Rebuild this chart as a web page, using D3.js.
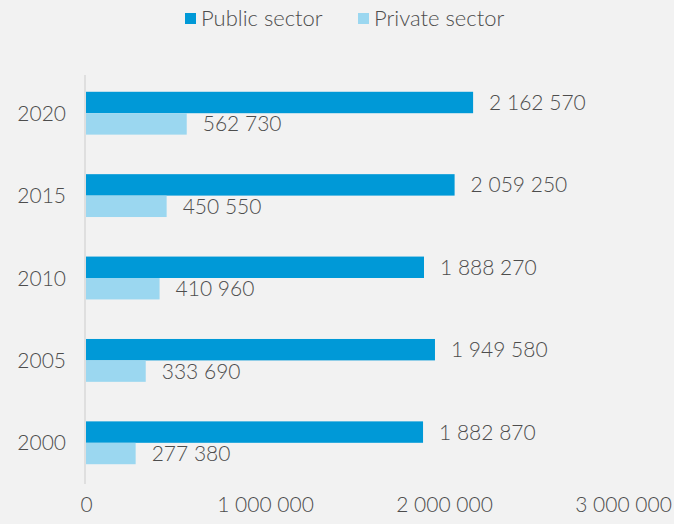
<!DOCTYPE html>
<html>
<head>
<meta charset="utf-8">
<script src="https://cdn.jsdelivr.net/npm/d3@7"></script>
<style>
  html, body { margin: 0; padding: 0; background: #f2f2f2; }
  svg { display: block; font-family: Lato, "Open Sans", sans-serif; font-weight: 300; }
</style>
</head>
<body>
<svg id="chart" width="674" height="524"></svg>
<script>
// Employment by sector, selected years
const years = ["2020", "2015", "2010", "2005", "2000"];
const publicSector = [2162570, 2059250, 1888270, 1949580, 1882870];
const privateSector = [562730, 450550, 410960, 333690, 277380];
const seriesNames = ["Public sector", "Private sector"];
const xTicks = [0, 1000000, 2000000, 3000000];

const colors = { "Public sector": "#0099d7", "Private sector": "#9bd7f0" };
const textColor = "#4d4d4d";

const svg = d3.select("#chart");
const margin = { left: 86, right: 51, top: 72, bottom: 40 };
const W = 674, H = 524;

const x = d3.scaleLinear().domain([0, 3000000]).range([margin.left, W - margin.right]);
const y = d3.scaleBand().domain(years).range([margin.top, H - margin.bottom]).paddingInner(0.48).paddingOuter(0.24);
const ySub = d3.scaleBand().domain(seriesNames).range([0, y.bandwidth()]);

const fmt = v => d3.format(",")(v).replace(/,/g, " ");

const rows = years.map((yr, i) => ({
  year: yr,
  values: [
    { key: "Public sector", value: publicSector[i] },
    { key: "Private sector", value: privateSector[i] }
  ]
}));

// vertical axis line
svg.append("line")
  .attr("x1", x(0) - 1).attr("x2", x(0) - 1)
  .attr("y1", margin.top + 3).attr("y2", H - margin.bottom)
  .attr("stroke", "#d9d9d9").attr("stroke-width", 1.5);

const groups = svg.selectAll("g.year").data(rows).join("g")
  .attr("class", "year")
  .attr("transform", d => `translate(0,${y(d.year)})`);

groups.selectAll("rect").data(d => d.values).join("rect")
  .attr("x", x(0))
  .attr("y", d => ySub(d.key))
  .attr("width", d => x(d.value) - x(0))
  .attr("height", ySub.bandwidth())
  .attr("fill", d => colors[d.key]);

groups.selectAll("text.val").data(d => d.values).join("text")
  .attr("class", "val")
  .attr("x", d => x(d.value) + 16)
  .attr("y", d => ySub(d.key) + ySub.bandwidth() / 2)
  .attr("dy", "0.36em")
  .attr("fill", textColor)
  .attr("font-size", 21)
  .text(d => fmt(d.value));

// category labels
svg.append("g").selectAll("text").data(years).join("text")
  .attr("x", x(0) - 20)
  .attr("y", d => y(d) + y.bandwidth() / 2)
  .attr("dy", "0.36em")
  .attr("text-anchor", "end")
  .attr("fill", textColor)
  .attr("font-size", 21)
  .text(d => d);

// x axis labels
const xAxis = d3.axisBottom(x).tickValues(xTicks).tickFormat(fmt).tickSize(0).tickPadding(0);
const gx = svg.append("g").attr("transform", `translate(0,${H - 20})`).call(xAxis);
gx.select(".domain").remove();
gx.selectAll("text")
  .attr("fill", textColor)
  .attr("font-size", 21)
  .attr("font-family", "Lato, 'Open Sans', sans-serif")
  .attr("font-weight", 300)
  .attr("y", 0).attr("dy", "0.36em");

// legend
const legend = svg.append("g");
const legendItems = [
  { key: "Public sector", x: 185 },
  { key: "Private sector", x: 358 }
];
legendItems.forEach(item => {
  legend.append("rect")
    .attr("x", item.x).attr("y", 13)
    .attr("width", 11).attr("height", 11)
    .attr("fill", colors[item.key]);
  legend.append("text")
    .attr("x", item.x + 16).attr("y", 18.5)
    .attr("dy", "0.36em")
    .attr("fill", textColor)
    .attr("font-size", 22)
    .text(item.key);
});
</script>
</body>
</html>
